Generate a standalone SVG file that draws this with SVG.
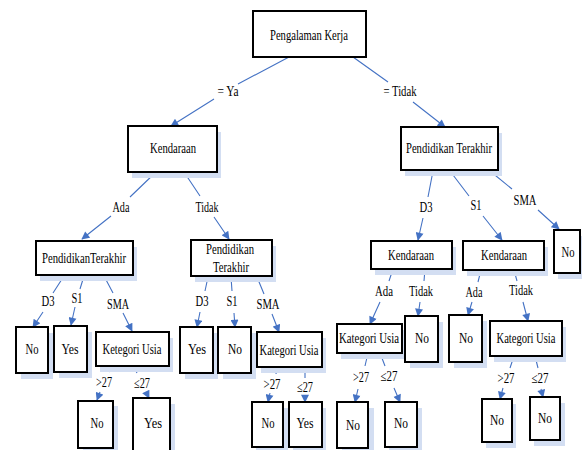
<svg xmlns="http://www.w3.org/2000/svg" width="582" height="450" viewBox="0 0 582 450">
<style>
.sh{fill:#d3def2;stroke:none}
.bx{fill:#fff;stroke:#000;stroke-width:2}
text{font-family:"Liberation Serif","DejaVu Serif",serif;font-size:14px;fill:#000;text-anchor:middle}
.c{fill:none;stroke:#4472c4;stroke-width:1.1;marker-end:url(#ah)}
</style>
<defs>
<marker id="ah" viewBox="0 0 10 10" refX="9" refY="5" markerWidth="9" markerHeight="8" markerUnits="userSpaceOnUse" orient="auto">
<path d="M0,0 L10,5 L0,10 z" fill="#4472c4"/>
</marker>
</defs>
<rect width="582" height="450" fill="#fff"/>
<g id="connectors">
<path class="c" d="M289,57 L238,84 M214,99 L171,126"/>
<path class="c" d="M353,57 L388,82 M413,102 L445,127"/>
<path class="c" d="M156,172 L130,197 M111,216 L82,239"/>
<path class="c" d="M184,172 L200,196 M214,217 L229,239"/>
<path class="c" d="M433,171 L428,197 M423,218 L418,240"/>
<path class="c" d="M450,171 L469,196 M483,216 L502,240"/>
<path class="c" d="M490,171 L512,189 M538,210 L559,229"/>
<path class="c" d="M64,276 L53,293 M43,312 L33,327"/>
<path class="c" d="M84,276 L80,289 M75,307 L71,325"/>
<path class="c" d="M104,276 L113,293 M123,313 L132,331"/>
<path class="c" d="M112,366 L109,372 M100,392 L97,400"/>
<path class="c" d="M133,366 L137,373 M146,392 L149,398"/>
<path class="c" d="M208,277 L205,291 M200,312 L197,327"/>
<path class="c" d="M231,277 L232,291 M234,313 L235,327"/>
<path class="c" d="M257,277 L264,294 M272,314 L279,332"/>
<path class="c" d="M277,367 L276,374 M270,393 L268,402"/>
<path class="c" d="M305,367 L305,378 M305,396 L305,402"/>
<path class="c" d="M393,269 L389,281 M380,302 L370,324"/>
<path class="c" d="M425,269 L424,281 M420,302 L418,316"/>
<path class="c" d="M368,353 L365,366 M358,389 L355,402"/>
<path class="c" d="M380,353 L385,366 M394,388 L400,402"/>
<path class="c" d="M481,270 L478,282 M472,302 L468,315"/>
<path class="c" d="M514,270 L517,281 M523,302 L528,321"/>
<path class="c" d="M514,356 L510,368 M503,388 L500,399"/>
<path class="c" d="M535,356 L538,368 M541,389 L543,397"/>
</g>
<g id="edge-labels">
<text x="228" y="96" textLength="21" lengthAdjust="spacingAndGlyphs">= Ya</text>
<text x="400" y="96" textLength="33" lengthAdjust="spacingAndGlyphs">= Tidak</text>
<text x="121" y="212" textLength="17" lengthAdjust="spacingAndGlyphs">Ada</text>
<text x="207" y="212" textLength="23" lengthAdjust="spacingAndGlyphs">Tidak</text>
<text x="426" y="212" textLength="13" lengthAdjust="spacingAndGlyphs">D3</text>
<text x="476" y="210" textLength="11" lengthAdjust="spacingAndGlyphs">S1</text>
<text x="525" y="205" textLength="23" lengthAdjust="spacingAndGlyphs">SMA</text>
<text x="48" y="306" textLength="13" lengthAdjust="spacingAndGlyphs">D3</text>
<text x="77" y="303" textLength="11" lengthAdjust="spacingAndGlyphs">S1</text>
<text x="118" y="309" textLength="22" lengthAdjust="spacingAndGlyphs">SMA</text>
<text x="104" y="387" textLength="16" lengthAdjust="spacingAndGlyphs">&gt;27</text>
<text x="142" y="388" textLength="16" lengthAdjust="spacingAndGlyphs">≤27</text>
<text x="202" y="306" textLength="13" lengthAdjust="spacingAndGlyphs">D3</text>
<text x="232" y="306" textLength="11" lengthAdjust="spacingAndGlyphs">S1</text>
<text x="268" y="309" textLength="23" lengthAdjust="spacingAndGlyphs">SMA</text>
<text x="272" y="389" textLength="17" lengthAdjust="spacingAndGlyphs">&gt;27</text>
<text x="305" y="392" textLength="16" lengthAdjust="spacingAndGlyphs">≤27</text>
<text x="384" y="296" textLength="18" lengthAdjust="spacingAndGlyphs">Ada</text>
<text x="421" y="296" textLength="24" lengthAdjust="spacingAndGlyphs">Tidak</text>
<text x="361" y="382" textLength="16" lengthAdjust="spacingAndGlyphs">&gt;27</text>
<text x="389" y="381" textLength="17" lengthAdjust="spacingAndGlyphs">≤27</text>
<text x="474" y="297" textLength="17" lengthAdjust="spacingAndGlyphs">Ada</text>
<text x="521" y="295" textLength="24" lengthAdjust="spacingAndGlyphs">Tidak</text>
<text x="506" y="383" textLength="17" lengthAdjust="spacingAndGlyphs">&gt;27</text>
<text x="540" y="383" textLength="17" lengthAdjust="spacingAndGlyphs">≤27</text>
</g>
<g id="root"><rect class="bx" x="253" y="11" width="113" height="46"/><text x="309" y="40" textLength="78" lengthAdjust="spacingAndGlyphs">Pengalaman Kerja</text></g>
<g id="kendaraan-l"><rect class="sh" x="132" y="132" width="89" height="46"/><rect class="bx" x="128" y="126" width="89" height="46"/><text x="173" y="153" textLength="46" lengthAdjust="spacingAndGlyphs">Kendaraan</text></g>
<g id="pendidikan-r"><rect class="sh" x="405" y="133" width="97" height="43"/><rect class="bx" x="401" y="127" width="97" height="43"/><text x="449" y="153" textLength="86" lengthAdjust="spacingAndGlyphs">Pendidikan Terakhir</text></g>
<g id="pendidikan-l"><rect class="sh" x="40" y="247" width="97" height="34"/><rect class="bx" x="36" y="241" width="97" height="34"/><text x="84" y="263" textLength="84" lengthAdjust="spacingAndGlyphs">PendidikanTerakhir</text></g>
<g id="pendidikan-m"><rect class="sh" x="195" y="246" width="81" height="36"/><rect class="bx" x="191" y="240" width="81" height="36"/><text x="230" y="254" textLength="48" lengthAdjust="spacingAndGlyphs">Pendidikan</text><text x="231" y="272" textLength="36" lengthAdjust="spacingAndGlyphs">Terakhir</text></g>
<g id="kendaraan-3"><rect class="sh" x="375" y="247" width="81" height="28"/><rect class="bx" x="371" y="241" width="81" height="28"/><text x="411" y="260" textLength="46" lengthAdjust="spacingAndGlyphs">Kendaraan</text></g>
<g id="kendaraan-4"><rect class="sh" x="467" y="247" width="81" height="29"/><rect class="bx" x="463" y="241" width="81" height="29"/><text x="504" y="260" textLength="46" lengthAdjust="spacingAndGlyphs">Kendaraan</text></g>
<g id="no-sma-r"><rect class="sh" x="558" y="236" width="26" height="43"/><rect class="bx" x="554" y="230" width="26" height="43"/><text x="568" y="257" textLength="13" lengthAdjust="spacingAndGlyphs">No</text></g>
<g id="no-l-d3"><rect class="sh" x="21" y="333" width="32" height="46"/><rect class="bx" x="16" y="327" width="32" height="46"/><text x="32" y="354" textLength="13" lengthAdjust="spacingAndGlyphs">No</text></g>
<g id="yes-l-s1"><rect class="sh" x="59" y="332" width="33" height="46"/><rect class="bx" x="54" y="326" width="33" height="46"/><text x="70" y="354" textLength="17" lengthAdjust="spacingAndGlyphs">Yes</text></g>
<g id="usia-l"><rect class="sh" x="100" y="338" width="73" height="34"/><rect class="bx" x="96" y="332" width="73" height="34"/><text x="132" y="354" textLength="59" lengthAdjust="spacingAndGlyphs">Ketegori Usia</text></g>
<g id="no-l-gt"><rect class="sh" x="83" y="406" width="35" height="47"/><rect class="bx" x="78" y="401" width="35" height="47"/><text x="97" y="428" textLength="13" lengthAdjust="spacingAndGlyphs">No</text></g>
<g id="yes-l-le"><rect class="sh" x="138" y="404" width="37" height="52"/><rect class="bx" x="133" y="398" width="37" height="56"/><text x="153" y="428" textLength="18" lengthAdjust="spacingAndGlyphs">Yes</text></g>
<g id="yes-m-d3"><rect class="sh" x="185" y="333" width="33" height="46"/><rect class="bx" x="180" y="327" width="33" height="46"/><text x="197" y="354" textLength="18" lengthAdjust="spacingAndGlyphs">Yes</text></g>
<g id="no-m-s1"><rect class="sh" x="223" y="333" width="33" height="46"/><rect class="bx" x="218" y="327" width="33" height="46"/><text x="235" y="354" textLength="14" lengthAdjust="spacingAndGlyphs">No</text></g>
<g id="usia-m"><rect class="sh" x="261" y="338" width="65" height="35"/><rect class="bx" x="257" y="332" width="65" height="35"/><text x="289" y="355" textLength="59" lengthAdjust="spacingAndGlyphs">Kategori Usia</text></g>
<g id="no-m-gt"><rect class="sh" x="256" y="408" width="32" height="45"/><rect class="bx" x="252" y="402" width="31" height="45"/><text x="268" y="428" textLength="13" lengthAdjust="spacingAndGlyphs">No</text></g>
<g id="yes-m-le"><rect class="sh" x="293" y="408" width="33" height="45"/><rect class="bx" x="289" y="402" width="33" height="45"/><text x="305" y="428" textLength="17" lengthAdjust="spacingAndGlyphs">Yes</text></g>
<g id="usia-3"><rect class="sh" x="341" y="330" width="65" height="29"/><rect class="bx" x="337" y="324" width="65" height="29"/><text x="369" y="343" textLength="60" lengthAdjust="spacingAndGlyphs">Kategori Usia</text></g>
<g id="no-3-tidak"><rect class="sh" x="410" y="322" width="33" height="46"/><rect class="bx" x="405" y="316" width="33" height="46"/><text x="422" y="343" textLength="14" lengthAdjust="spacingAndGlyphs">No</text></g>
<g id="no-3-gt"><rect class="sh" x="342" y="408" width="32" height="45"/><rect class="bx" x="337" y="402" width="31" height="46"/><text x="353" y="430" textLength="14" lengthAdjust="spacingAndGlyphs">No</text></g>
<g id="no-3-le"><rect class="sh" x="389" y="408" width="33" height="45"/><rect class="bx" x="385" y="402" width="32" height="45"/><text x="401" y="428" textLength="14" lengthAdjust="spacingAndGlyphs">No</text></g>
<g id="no-4-ada"><rect class="sh" x="454" y="321" width="33" height="47"/><rect class="bx" x="449" y="315" width="33" height="47"/><text x="466" y="343" textLength="14" lengthAdjust="spacingAndGlyphs">No</text></g>
<g id="usia-4"><rect class="sh" x="494" y="327" width="72" height="35"/><rect class="bx" x="490" y="321" width="72" height="35"/><text x="526" y="343" textLength="59" lengthAdjust="spacingAndGlyphs">Kategori Usia</text></g>
<g id="no-4-gt"><rect class="sh" x="486" y="404" width="30" height="44"/><rect class="bx" x="482" y="399" width="30" height="43"/><text x="497" y="425" textLength="14" lengthAdjust="spacingAndGlyphs">No</text></g>
<g id="no-4-le"><rect class="sh" x="534" y="403" width="31" height="43"/><rect class="bx" x="530" y="397" width="30" height="43"/><text x="545" y="423" textLength="14" lengthAdjust="spacingAndGlyphs">No</text></g>
</svg>
